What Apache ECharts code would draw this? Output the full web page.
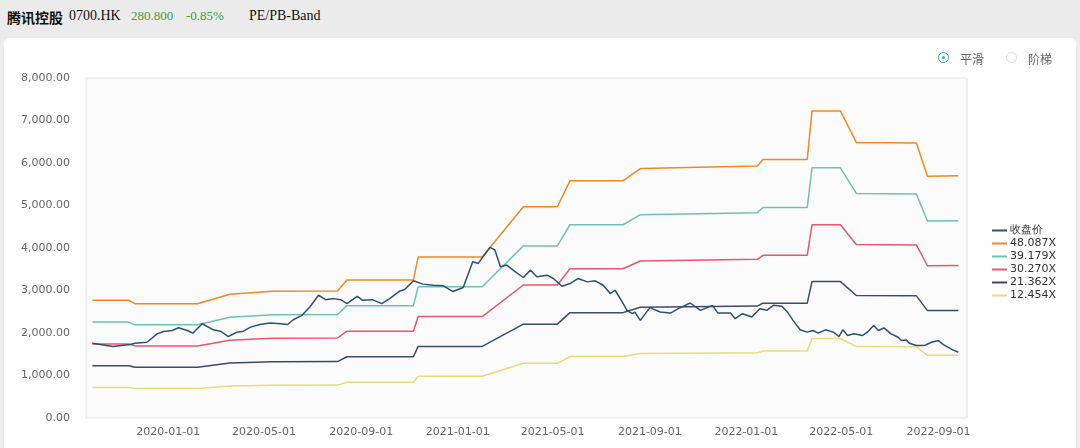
<!DOCTYPE html>
<html>
<head>
<meta charset="utf-8">
<script src="https://cdn.jsdelivr.net/npm/echarts@6/dist/echarts.min.js"></script>
<style>
  html,body{margin:0;padding:0;width:1080px;height:448px;overflow:hidden;background:#ececec;}
  #hdr{position:absolute;left:0;top:0;width:1080px;height:35px;background:#ebebeb;font-family:"Liberation Serif",serif;}
  #hdr span{position:absolute;top:8px;white-space:nowrap;}
  #card{position:absolute;left:4px;top:38px;width:1072px;height:420px;background:#fff;border-radius:6px;}
  #chart{position:absolute;left:0;top:0;width:1080px;height:448px;}
  .radio{position:absolute;top:50px;font-family:"Noto Sans CJK SC",sans-serif;font-size:12px;color:#666;white-space:nowrap;}
  .dot{position:absolute;top:52px;width:11px;height:11px;border-radius:50%;box-sizing:border-box;}
</style>
</head>
<body>
<div id="hdr">
  <span style="left:7px;top:7px;font-family:'Noto Sans CJK SC',sans-serif;font-weight:bold;font-size:14px;color:#111;">腾讯控股</span>
  <span style="left:69px;font-size:14px;color:#111;">0700.HK</span>
  <span style="left:131px;font-size:13px;color:#3c9b3c;">280.800</span>
  <span style="left:186px;font-size:13px;color:#3c9b3c;">-0.85%</span>
  <span style="left:249px;font-size:14px;color:#111;">PE/PB-Band</span>
</div>
<div id="card"></div>
<div id="chart"></div>
<div class="dot" style="left:938px;border:1.5px solid #2fb0a8;"><div style="position:absolute;left:2.5px;top:2.5px;width:3px;height:3px;border-radius:50%;background:#2fb0a8;"></div></div>
<div class="radio" style="left:960px;">平滑</div>
<div class="dot" style="left:1006px;border:1px solid #dcdcdc;"></div>
<div class="radio" style="left:1028px;">阶梯</div>
<script>
// ---- data ----
const legendNames = ['收盘价', '48.087X', '39.179X', '30.270X', '21.362X', '12.454X'];
const yTicks = [0, 1000, 2000, 3000, 4000, 5000, 6000, 7000, 8000];

const bandDates = ['2019-09-27','2019-11-12','2019-11-20','2020-02-07','2020-03-19','2020-05-12','2020-08-02','2020-08-14','2020-11-06','2020-11-12','2021-02-01','2021-03-25','2021-05-07','2021-05-23','2021-07-29','2021-08-20','2022-01-15','2022-01-22','2022-03-19','2022-03-25','2022-04-30','2022-05-20','2022-08-04','2022-08-18','2022-09-26'];
const band48 = [2770,2770,2690,2690,2910,2980,2990,3245,3245,3790,3790,4970,4970,5580,5580,5870,5930,6080,6080,7225,7225,6485,6470,5690,5700];
const band39 = [2257,2257,2192,2192,2371,2428,2436,2644,2644,3088,3088,4050,4050,4547,4547,4783,4832,4954,4954,5887,5887,5284,5272,4636,4644];
const band30 = [1744,1744,1693,1693,1832,1876,1882,2043,2043,2386,2386,3129,3129,3513,3513,3695,3733,3827,3827,4548,4548,4082,4073,3582,3588];
const band21 = [1230,1230,1195,1195,1293,1324,1328,1441,1441,1684,1684,2208,2208,2479,2479,2607,2634,2701,2701,3209,3209,2881,2874,2527,2532];
const band12 = [717,717,697,697,754,772,774,840,840,982,982,1287,1287,1445,1445,1520,1536,1575,1575,1871,1871,1680,1676,1474,1476];

const closeDates = ['2019-09-27','2019-10-23','2019-11-14','2019-11-20','2019-12-05','2019-12-18','2019-12-26','2020-01-06','2020-01-14','2020-01-25','2020-02-01','2020-02-13','2020-02-27','2020-03-07','2020-03-17','2020-03-28','2020-04-05','2020-04-14','2020-04-26','2020-05-09','2020-05-22','2020-05-31','2020-06-07','2020-06-18','2020-06-28','2020-07-09','2020-07-18','2020-07-28','2020-08-06','2020-08-14','2020-08-27','2020-09-03','2020-09-15','2020-09-27','2020-10-07','2020-10-20','2020-10-26','2020-11-06','2020-11-18','2020-12-01','2020-12-14','2020-12-26','2021-01-08','2021-01-20','2021-01-27','2021-02-02','2021-02-11','2021-02-17','2021-02-24','2021-03-04','2021-03-12','2021-03-25','2021-04-03','2021-04-11','2021-04-24','2021-05-02','2021-05-13','2021-05-23','2021-06-02','2021-06-14','2021-06-24','2021-07-04','2021-07-13','2021-07-19','2021-07-28','2021-08-03','2021-08-10','2021-08-13','2021-08-20','2021-09-01','2021-09-14','2021-09-27','2021-10-07','2021-10-22','2021-11-04','2021-11-19','2021-11-26','2021-12-12','2021-12-18','2021-12-27','2022-01-08','2022-01-18','2022-01-27','2022-02-04','2022-02-15','2022-02-22','2022-03-01','2022-03-10','2022-03-19','2022-03-26','2022-04-02','2022-04-11','2022-04-21','2022-04-28','2022-05-03','2022-05-09','2022-05-17','2022-05-28','2022-06-03','2022-06-11','2022-06-17','2022-06-24','2022-07-03','2022-07-12','2022-07-16','2022-07-22','2022-07-26','2022-08-04','2022-08-14','2022-08-23','2022-09-01','2022-09-07','2022-09-19','2022-09-26'];
const closeValues = [1759,1680,1728,1759,1783,1980,2035,2059,2122,2059,1996,2217,2075,2043,1917,2020,2043,2138,2201,2233,2217,2201,2312,2414,2611,2888,2785,2809,2785,2691,2864,2769,2785,2691,2809,2990,3022,3230,3150,3124,3110,2975,3070,3676,3637,3795,4016,3953,3558,3598,3479,3306,3479,3321,3361,3282,3100,3164,3282,3203,3227,3124,2927,3006,2730,2533,2454,2493,2296,2596,2493,2469,2572,2706,2533,2651,2469,2469,2336,2454,2375,2572,2533,2651,2627,2493,2296,2075,2020,2059,1996,2075,2020,1917,2075,1941,1981,1941,2020,2178,2059,2122,1981,1901,1822,1838,1759,1704,1704,1783,1822,1728,1602,1546];

// ---- daily category axis ----
const axisStart = Date.UTC(2019, 8, 19);
const axisEnd = Date.UTC(2022, 9, 7);
const categories = [];
for (let t = axisStart; t <= axisEnd; t += 86400000) {
  const d = new Date(t);
  categories.push(d.getUTCFullYear() + '-' + String(d.getUTCMonth() + 1).padStart(2, '0') + '-' + String(d.getUTCDate()).padStart(2, '0'));
}

function fmt(v) {
  const s = Number(v).toFixed(2);
  const parts = s.split('.');
  return parts[0].replace(/\B(?=(\d{3})+(?!\d))/g, ',') + '.' + parts[1];
}
function pairs(dates, vals) { return dates.map((d, i) => [d, vals[i]]); }

const colors = ['#2d5073', '#f08a1c', '#6cc3ae', '#e9566d', '#3e4a69', '#e2de78'];
const bandArrays = [band48, band39, band30, band21, band12];

const series = [];
bandArrays.forEach((arr, i) => {
  series.push({
    name: legendNames[i + 1], type: 'line', data: pairs(bandDates, arr),
    showSymbol: false, lineStyle: { width: 1.5, color: colors[i + 1] }, itemStyle: { color: colors[i + 1] },
    z: 2, animation: false
  });
});
series.push({
  name: legendNames[0], type: 'line', data: pairs(closeDates, closeValues),
  showSymbol: false, lineStyle: { width: 1.5, color: colors[0] }, itemStyle: { color: colors[0] },
  z: 3, animation: false
});

const chart = echarts.init(document.getElementById('chart'), null, { renderer: 'canvas' });
chart.setOption({
  backgroundColor: 'transparent',
  textStyle: { fontFamily: 'DejaVu Sans' },
  grid: { left: 86, right: 113, top: 78, bottom: 30, show: true, backgroundColor: '#fbfbfb', borderColor: '#e2e2e2', borderWidth: 1 },
  legend: {
    data: legendNames, orient: 'vertical', left: 987, top: 219,
    icon: 'rect', itemWidth: 15, itemHeight: 2, itemGap: 0,
    textStyle: { fontSize: 11, color: '#333', fontFamily: 'DejaVu Sans', lineHeight: 13, padding: [0, 0, 0, -2] }
  },
  xAxis: {
    type: 'category', data: categories, boundaryGap: false,
    axisLine: { show: false }, axisTick: { show: false }, splitLine: { show: false },
    axisLabel: {
      interval: (idx, val) => /-(01|05|09)-01$/.test(val),
      color: '#666', fontSize: 11, margin: 9, fontFamily: 'DejaVu Sans'
    }
  },
  yAxis: {
    type: 'value', min: yTicks[0], max: yTicks[yTicks.length - 1], interval: 1000,
    axisLine: { show: false }, axisTick: { show: false }, splitLine: { show: false },
    axisLabel: { formatter: fmt, color: '#666', fontSize: 11, margin: 16, fontFamily: 'DejaVu Sans' }
  },
  series: series
});
</script>
</body>
</html>
